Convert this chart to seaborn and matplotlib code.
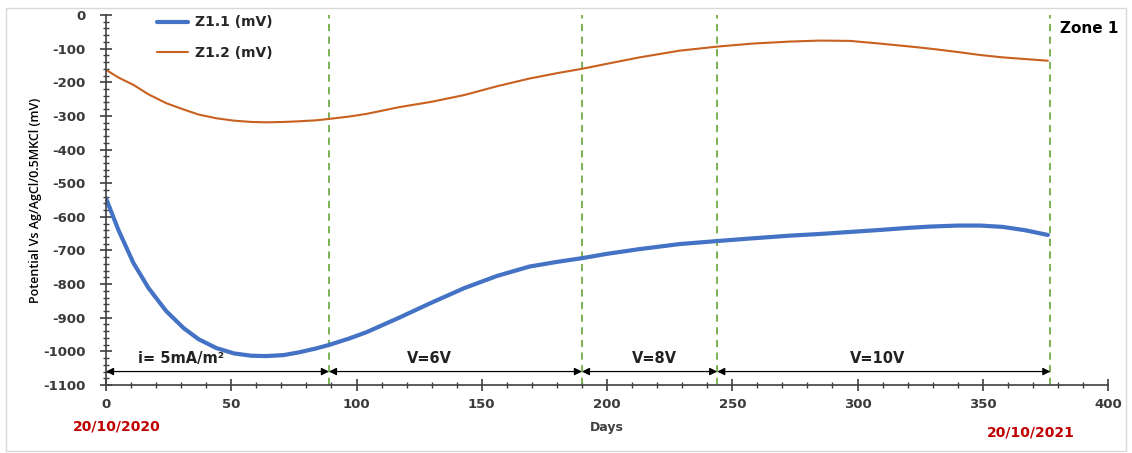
import matplotlib
matplotlib.use("Agg")
import matplotlib.pyplot as plt
from matplotlib.ticker import MultipleLocator
import seaborn as sns
import pandas as pd

# Monitoring days and measured potentials (mV vs Ag/AgCl/0.5M KCl)
days = [0, 5, 11, 17, 24, 31, 37, 44, 51, 58, 64, 71, 77, 84, 89, 97, 104,
        117, 130, 143, 156, 169, 180, 190, 200, 213, 229, 244, 258, 273, 285,
        297, 309, 320, 329, 340, 349, 358, 367, 376]
z11 = [-545, -640, -738, -812, -880, -931, -964, -990, -1006, -1013, -1014,
       -1011, -1003, -991, -981, -962, -943, -900, -855, -812, -776, -748,
       -734, -723, -710, -696, -681, -672, -664, -656, -651, -645, -639, -633,
       -629, -626, -626, -630, -640, -654]
z12 = [-163, -186, -208, -236, -262, -281, -296, -307, -314, -318, -319, -318,
       -316, -313, -309, -302, -294, -274, -258, -238, -212, -189, -173, -160,
       -145, -126, -106, -94, -85, -79, -76, -77, -85, -93, -100, -110, -119,
       -126, -131, -136]

# Treatment phase boundaries (days) and labels
phase_edges = [0, 89, 190, 244, 377]
phase_labels = ["i= 5mA/m²", "V=6V", "V=8V", "V=10V"]
phase_label_x = [30, 129, 219, 308]
start_date, end_date = "20/10/2020", "20/10/2021"

df = pd.concat([
    pd.DataFrame({"Days": days, "mV": z11, "series": "Z1.1 (mV)"}),
    pd.DataFrame({"Days": days, "mV": z12, "series": "Z1.2 (mV)"}),
])

sns.set_style("white")
plt.rcParams["font.family"] = ["DejaVu Sans"]
plt.rcParams["axes.unicode_minus"] = False

fig = plt.figure(figsize=(11.32, 4.53), dpi=100)
ax = fig.add_axes([106 / 1132, 1 - 385 / 453, (1108 - 106) / 1132, (385 - 15) / 453])

palette = {"Z1.1 (mV)": "#4472C4", "Z1.2 (mV)": "#C8611F"}
sns.lineplot(data=df, x="Days", y="mV", hue="series", palette=palette,
             size="series", sizes={"Z1.1 (mV)": 3.0, "Z1.2 (mV)": 1.5},
             ax=ax, legend=False)
for ln in ax.lines:
    ln.set_solid_joinstyle("round")
    ln.set_solid_capstyle("round")

ax.set_xlim(0, 400)
ax.set_ylim(-1100, 0)
ax.xaxis.set_major_locator(MultipleLocator(50))
ax.xaxis.set_minor_locator(MultipleLocator(10))
ax.yaxis.set_major_locator(MultipleLocator(100))
ax.yaxis.set_minor_locator(MultipleLocator(20))
for s in ["top", "right"]:
    ax.spines[s].set_visible(False)
for s in ["left", "bottom"]:
    ax.spines[s].set_color("#404040")
    ax.spines[s].set_linewidth(1.2)
ax.tick_params(which="major", direction="inout", length=9, width=1.2, color="#404040",
               labelsize=9.5, labelcolor="#3a3a3a")
ax.tick_params(which="minor", direction="inout", length=5, width=1, color="#404040")
ax.tick_params(axis="x", which="both", bottom=True, pad=5)
ax.tick_params(axis="y", which="both", left=True, pad=10)
for lab in ax.get_xticklabels() + ax.get_yticklabels():
    lab.set_fontweight("bold")

ax.set_xlabel("Days", fontsize=9, fontweight="bold", color="#404040", labelpad=7)
ax.set_ylabel("Potential Vs Ag/AgCl/0.5MKCl (mV)", fontsize=9, color="black",
              labelpad=1, family=["Open Sans", "DejaVu Sans"], fontweight="semibold")

# Phase boundaries
for x in phase_edges[1:]:
    ax.axvline(x, color="#70AD47", linestyle=(0, (4, 3)), linewidth=1.3, zorder=1)

# Phase arrows and labels
arrow_y = -1060
for a, b in zip(phase_edges[:-1], phase_edges[1:]):
    ax.annotate("", xy=(a, arrow_y), xytext=(b, arrow_y),
                arrowprops=dict(arrowstyle="<|-|>", color="black", lw=0.9,
                                mutation_scale=11, shrinkA=0, shrinkB=0))
for lx, txt in zip(phase_label_x, phase_labels):
    ax.text(lx, -1020, txt, ha="center", va="center", fontsize=10.5,
            fontweight="bold", color="#222222")

ax.text(381, -39, "Zone 1", ha="left", va="center", fontsize=11,
        fontweight="bold", color="black")

# Start and end dates
fig.text(117 / 1132, 1 - 426 / 453, start_date, ha="center", va="center",
         fontsize=10, fontweight="bold", color="#C00000")
fig.text(1031 / 1132, 1 - 433 / 453, end_date, ha="center", va="center",
         fontsize=10, fontweight="bold", color="#C00000")

# Legend
handles = [plt.Line2D([], [], color=palette["Z1.1 (mV)"], lw=3.0),
           plt.Line2D([], [], color=palette["Z1.2 (mV)"], lw=1.5)]
fig.legend(handles, ["Z1.1 (mV)", "Z1.2 (mV)"], loc="upper left",
           bbox_to_anchor=(144 / 1132, 1 - 3 / 453), bbox_transform=fig.transFigure,
           frameon=False, handlelength=2.3, handletextpad=0.45, borderpad=0.4,
           labelspacing=1.2, prop={"weight": "bold", "size": 10})

# Light frame around the figure
fig.patches.append(plt.Rectangle((6 / 1132, 0.005), 1 - 12 / 1132, 1 - 10 / 453,
                                 transform=fig.transFigure, fill=False,
                                 edgecolor="#D9D9D9", lw=1))

fig.savefig("out.png", dpi=100)
